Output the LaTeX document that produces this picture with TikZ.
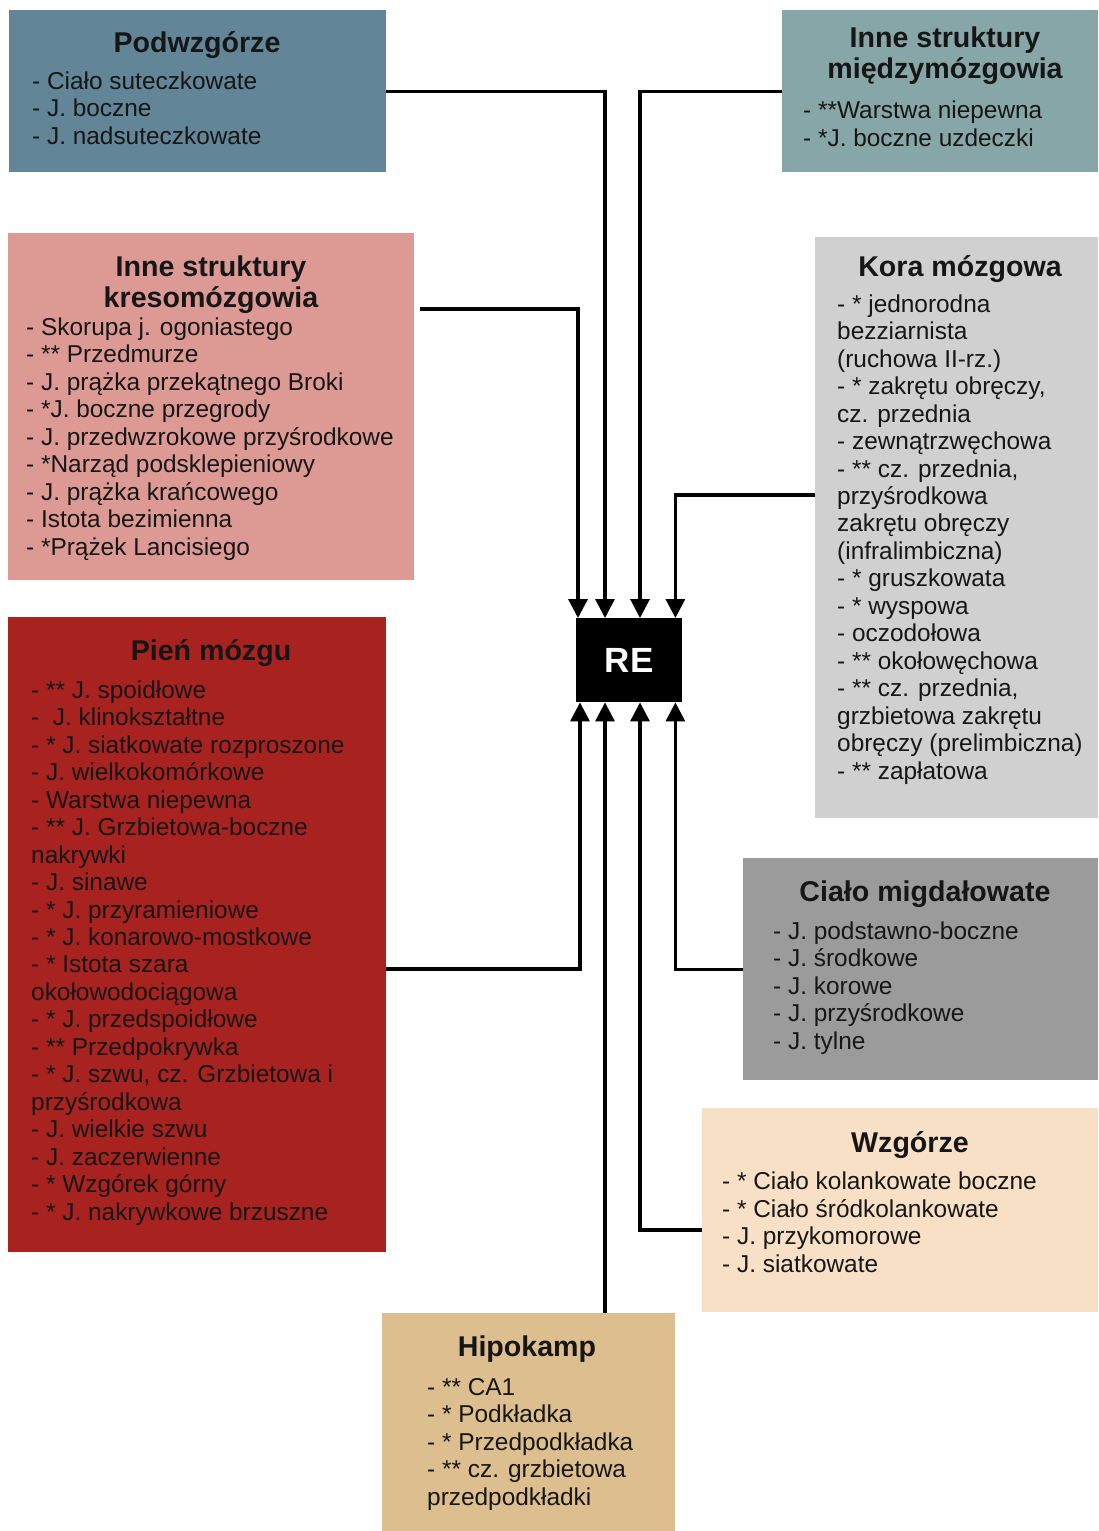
\documentclass[tikz,border=0pt]{standalone}
\usepackage{fontspec}
\setmainfont{Liberation Sans}
\usetikzlibrary{arrows.meta}
\definecolor{cPodw}{HTML}{628597}
\definecolor{cMied}{HTML}{87A6A8}
\definecolor{cKres}{HTML}{DD9A95}
\definecolor{cKora}{HTML}{D0D0D0}
\definecolor{cPien}{HTML}{A8221F}
\definecolor{cMig}{HTML}{9B9B9B}
\definecolor{cWzg}{HTML}{F7E0C6}
\definecolor{cHipo}{HTML}{DDBE8E}
\definecolor{cText}{HTML}{161616}
\begin{document}
\begin{tikzpicture}[x=1pt,y=-1pt,
  box/.style={draw=none,inner sep=0pt,anchor=north west,rectangle},
  ttl/.style={inner sep=0pt,anchor=base,align=center,text=cText,font=\fontsize{28.6}{31}\selectfont\bfseries},
  lst/.style={inner sep=0pt,anchor=base west,align=left,text=cText,font=\fontsize{24.4}{27.45}\selectfont},
  conn/.style={line width=3.2pt,-{Triangle[length=19pt,width=19pt]}}]
\useasboundingbox (0,0) rectangle (1098,1531);
\fill[white] (0,0) rectangle (1098,1531);
% boxes
\node[box,fill=cPodw,minimum width=377pt,minimum height=162pt] (podw) at (9,10) {};
\node[box,fill=cMied,minimum width=316pt,minimum height=162pt] (mied) at (782,10) {};
\node[box,fill=cKres,minimum width=406pt,minimum height=347pt] (kres) at (8,233) {};
\node[box,fill=cKora,minimum width=283pt,minimum height=581pt] (kora) at (815,237) {};
\node[box,fill=cPien,minimum width=378pt,minimum height=635pt] (pien) at (8,617) {};
\node[box,fill=cMig,minimum width=355pt,minimum height=222pt] (mig) at (743,858) {};
\node[box,fill=cWzg,minimum width=396pt,minimum height=204pt] (wzg) at (702,1108) {};
\node[box,fill=cHipo,minimum width=293pt,minimum height=218pt] (hipo) at (382,1313) {};
\node[box,fill=black,minimum width=106pt,minimum height=84pt] (RE) at (576,618) {};
\node[inner sep=0pt,text=white,font=\fontsize{35}{35}\selectfont\bfseries] (REt) at (RE.center) {RE};
% titles (anchored at the baseline of the last line)
\node[ttl] (podwT) at (197,52) {Podwzgórze};
\node[ttl] (miedT) at (945,78) {Inne struktury\\międzymózgowia};
\node[ttl] (kresT) at (211,307) {Inne struktury\\kresomózgowia};
\node[ttl] (koraT) at (960,276) {Kora mózgowa};
\node[ttl] (pienT) at (211,660) {Pień mózgu};
\node[ttl] (migT) at (925,901) {Ciało migdałowate};
\node[ttl] (wzgT) at (910,1152) {Wzgórze};
\node[ttl] (hipoT) at (527,1356) {Hipokamp};
% lists (anchored at the baseline of the last line)
\node[lst] (podwL) at (32,144) {- Ciało suteczkowate\\- J. boczne\\- J. nadsuteczkowate};
\node[lst] (miedL) at (803,146) {- **Warstwa niepewna\\- *J. boczne uzdeczki};
\node[lst] (kresL) at (26,555) {- Skorupa j. ogoniastego\\- ** Przedmurze\\- J. prążka przekątnego Broki\\- *J. boczne przegrody\\- J. przedwzrokowe przyśrodkowe\\- *Narząd podsklepieniowy\\- J. prążka krańcowego\\- Istota bezimienna\\- *Prążek Lancisiego};
\node[lst] (koraL) at (837,779) {- * jednorodna\\bezziarnista\\(ruchowa II-rz.)\\- * zakrętu obręczy,\\cz. przednia\\- zewnątrzwęchowa\\- ** cz. przednia,\\przyśrodkowa\\zakrętu obręczy\\(infralimbiczna)\\- * gruszkowata\\- * wyspowa\\- oczodołowa\\- ** okołowęchowa\\- ** cz. przednia,\\grzbietowa zakrętu\\obręczy (prelimbiczna)\\- ** zapłatowa};
\node[lst] (pienL) at (31,1220) {- ** J. spoidłowe\\-\ \ J. klinokształtne\\- * J. siatkowate rozproszone\\- J. wielkokomórkowe\\- Warstwa niepewna\\- ** J. Grzbietowa-boczne\\nakrywki\\- J. sinawe\\- * J. przyramieniowe\\- * J. konarowo-mostkowe\\- * Istota szara\\okołowodociągowa\\- * J. przedspoidłowe\\- ** Przedpokrywka\\- * J. szwu, cz. Grzbietowa i\\przyśrodkowa\\- J. wielkie szwu\\- J. zaczerwienne\\- * Wzgórek górny\\- * J. nakrywkowe brzuszne};
\node[lst] (migL) at (773,1049) {- J. podstawno-boczne\\- J. środkowe\\- J. korowe\\- J. przyśrodkowe\\- J. tylne};
\node[lst] (wzgL) at (722,1272) {- * Ciało kolankowate boczne\\- * Ciało śródkolankowate\\- J. przykomorowe\\- J. siatkowate};
\node[lst] (hipoL) at (427,1505) {- ** CA1\\- * Podkładka\\- * Przedpodkładka\\- ** cz. grzbietowa\\przedpodkładki};
% connectors
\draw[conn] (podw.east) -| ([xshift=29pt]RE.north west);
\draw[conn] (mied.west) -| ([xshift=64pt]RE.north west);
\draw[conn] ([xshift=6pt]kres.east |- 0,309) -| ([xshift=2pt]RE.north west);
\draw[conn] (kora.west |- 0,495) -| ([xshift=-7pt]RE.north east);
\draw[conn] (pien.east |- 0,969) -| ([xshift=4pt]RE.south west);
\draw[conn] (mig.west) -| ([xshift=-7pt]RE.south east);
\draw[conn] (wzg.west |- 0,1230) -| ([xshift=64pt]RE.south west);
\draw[conn] (hipo.north -| 605,0) -- ([xshift=29pt]RE.south west);
\end{tikzpicture}
\end{document}
